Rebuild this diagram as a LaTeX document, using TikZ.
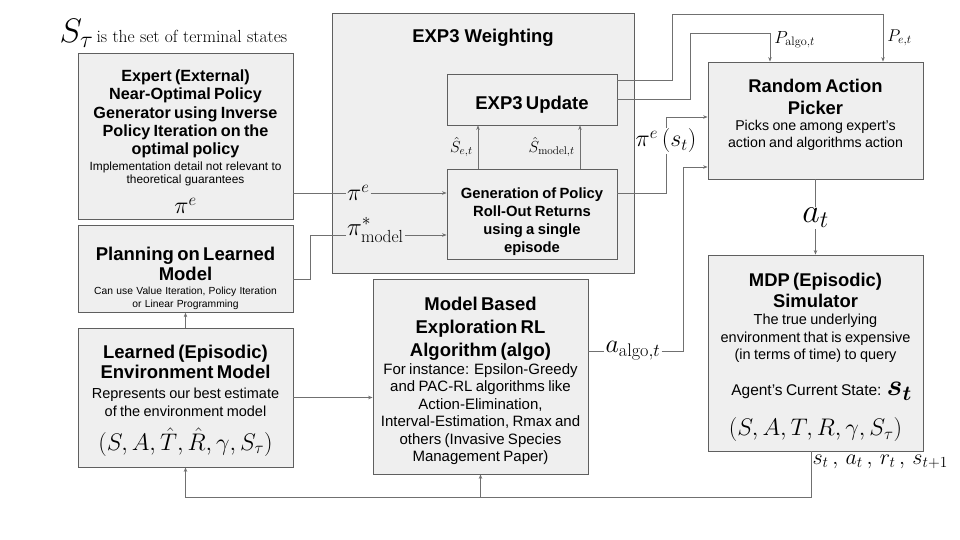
\RequirePackage{fix-cm}
\documentclass[tikz,border=0pt]{standalone}
\usepackage{amsmath,amssymb,bm}
\usepackage{fontspec}
\setsansfont{Liberation Sans}
\usetikzlibrary{positioning,arrows.meta}
\definecolor{boxfill}{HTML}{EFEFEF}
\definecolor{boxline}{HTML}{5F5F5F}
\definecolor{wirecol}{HTML}{707070}
\newcommand{\Title}[4][0pt]{{\bfseries\fontsize{#2}{#3}\selectfont\par\vspace{#1}#4\par}}
\newcommand{\Desc}[4][0pt]{{\fontsize{#2}{#3}\selectfont\par\vspace{#1}#4\par}}
\newcommand{\msize}[1]{\fontsize{#1}{#1}\selectfont}

\begin{document}
\begin{tikzpicture}[x=1pt, y=-1pt,
  box/.style={draw=boxline, fill=boxfill, line width=0.8pt, align=center, font=\sffamily, inner sep=3pt},
  wire/.style={draw=wirecol, line width=0.8pt},
  arr/.style={wire, -{Stealth[length=4.5pt,width=3.5pt]}},
  mlab/.style={inner sep=1pt}]
\useasboundingbox (0,0) rectangle (960,540);

\node[anchor=west] (terminal) at (56,33) {{\msize{34}$S_\tau$} {\fontsize{17.5}{18}\selectfont is the set of terminal states}};

\node[box, minimum width=215pt, minimum height=166pt, text width=209pt] (expert) at (185.5,136) {%
\Title[5pt]{16.2}{18.3}{Expert (External)\\Near-Optimal Policy\\Generator using Inverse\\Policy Iteration on the\\optimal policy}
\Desc[3pt]{11.9}{13}{Implementation detail not relevant to\\theoretical guarantees}
\Desc[2pt]{24}{28}{$\pi^e$}};
\node[box, minimum width=215pt, minimum height=80pt, text width=209pt] (planning) at (185.5,269) {%
\Title[12pt]{18.5}{20}{Planning on Learned\\Model}
\Desc[1pt]{10.3}{12.7}{Can use Value Iteration, Policy Iteration\\or Linear Programming}};
\node[box, minimum width=215pt, minimum height=139pt, text width=209pt] (learned) at (185.5,397.5) {%
\Title{18.5}{20}{Learned (Episodic)\\Environment Model}
\Desc[1pt]{14.5}{18.3}{Represents our best estimate\\of the environment model}
\Desc[4pt]{24}{30}{$(S,A,\hat{T},\hat{R},\gamma,S_\tau)$}};

\node[box, minimum width=302pt, minimum height=260pt] (weight) at (483,143) {};
\node[font=\sffamily\bfseries\fontsize{18.5}{21}\selectfont, below=13pt of weight.north] (weighttitle) {EXP3 Weighting};
\node[box, minimum width=170pt, minimum height=51pt, text width=164pt] (update) at (532,99.5) {\Title[3pt]{18.5}{21}{EXP3 Update}};
\node[box, minimum width=170pt, minimum height=84pt, text width=164pt] (rollout) at (532,214) {%
\Title[9pt]{14.8}{18}{Generation of Policy\\Roll-Out Returns\\using a single\\episode}};

\node[box, minimum width=215pt, minimum height=195pt, text width=209pt] (algo) at (480.5,376.5) {%
\Title{18.5}{23}{Model Based\\Exploration RL\\Algorithm (algo)}
\Desc{15}{17.5}{For instance: Epsilon-Greedy\\and PAC-RL algorithms like\\Action-Elimination,\\Interval-Estimation, Rmax and\\others (Invasive Species\\Management Paper)}};

\node[box, minimum width=215pt, minimum height=117pt, text width=209pt] (picker) at (815.5,120.5) {%
\Title[-20pt]{18.4}{21.7}{Random Action\\Picker}
\Desc{14.2}{16.7}{Picks one among expert’s\\action and algorithms action}};
\node[box, minimum width=215pt, minimum height=196pt, text width=209pt] (mdp) at (815.5,353) {%
\Title[1pt]{18.4}{21}{MDP (Episodic)\\Simulator}
\Desc{14.5}{17.5}{The true underlying\\environment that is expensive\\(in terms of time) to query}
\Desc[14pt]{15.5}{22}{\hspace*{12pt}Agent’s Current State: {\msize{30}$\bm{s_t}$}}
\Desc[4pt]{24}{36}{$(S,A,T,R,\gamma,S_\tau)$}};

\node[mlab, anchor=west] (pie) at (346,193) {\msize{24}$\pi^e$};
\draw[wire] (expert.east |- pie.west) -- (pie.west);
\draw[arr] (pie.east) -- (rollout.west |- pie.east);
\node[mlab, anchor=base west] (pimodel) at (346,235) {\msize{25}$\pi^*_{\mathrm{model}}$};
\draw[wire] ([yshift=-10pt]planning.east) -- ++(17,0) |- (pimodel.base west);
\draw[arr] (pimodel.base east) -- (rollout.west |- pimodel.base east);

\draw[arr] ([xshift=-54pt]rollout.north) -- node[left=4pt, mlab] (se) {\msize{16}$\hat{S}_{e,t}$} ([xshift=-54pt]update.south);
\draw[arr] ([xshift=48pt]rollout.north) -- node[left=4pt, mlab] (smodel) {\msize{16}$\hat{S}_{\mathrm{model},t}$} ([xshift=48pt]update.south);

\draw[arr] ([yshift=19.5pt]update.east) -| (672,14) -| node[pos=0.75, right=3pt, mlab] (pe) {\msize{17}$P_{e,t}$} ([xshift=67.5pt]picker.north);
\draw[arr] (update.east) -| (690,33) -| node[pos=0.62, right=3pt, mlab] (palgo) {\msize{17.5}$P_{\mathrm{algo},t}$} ([xshift=-45.5pt]picker.north);

\node[mlab] (pis) at (666,141) {\msize{24}$\pi^e\,(s_t)$};
\draw[wire] ([yshift=21pt]rollout.east) -| (pis);
\draw[arr] (pis) |- ([yshift=3.5pt]picker.west);

\node[mlab] (aalgo) at (633,351) {\msize{26}$a_{\mathrm{algo},t}$};
\draw[wire] (algo.east |- aalgo) -- (aalgo);
\draw[arr] (aalgo.east) -- ++(22,0) |- ([yshift=-46.5pt]picker.west);

\node[mlab] (at) at (815.5,218) {\msize{34}$a_t$};
\draw[wire] (picker) -- (at);
\draw[arr] (at) -- (mdp);

\coordinate (fb) at ([xshift=-4.5pt, yshift=-46pt]mdp.south);
\draw[arr] ([xshift=-4.5pt]mdp.south) -- (fb) -| (learned.south);
\draw[arr] (algo.south |- fb) -- (algo.south);
\node[anchor=west] (sarsa) at (809,462) {\msize{22}$s_t\,,\,a_t\,,\,r_t\,,\,s_{t+1}$};

\draw[arr] (learned) -- (planning);
\draw[arr] (learned.east) -- (algo.west |- learned.east);
\end{tikzpicture}
\end{document}
